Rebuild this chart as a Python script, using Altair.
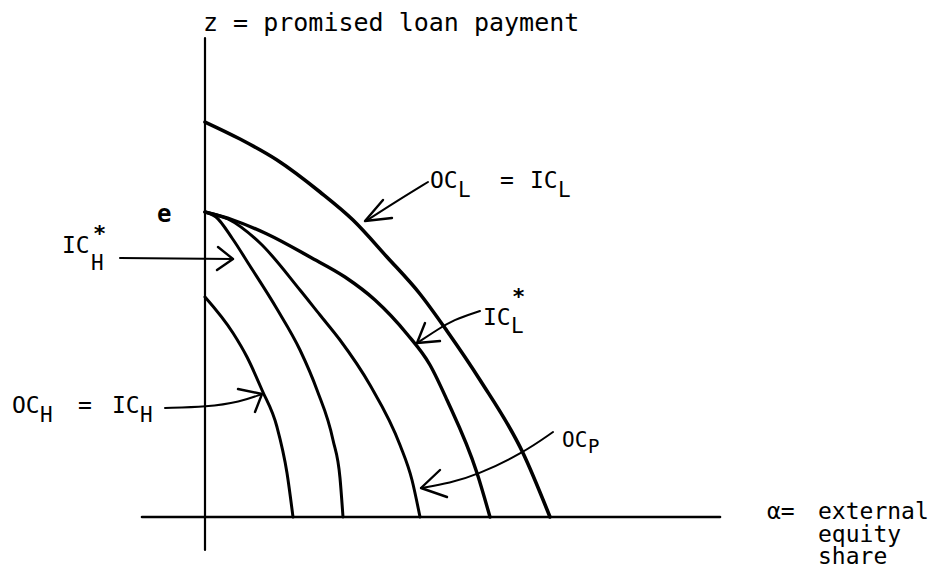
import altair as alt
import pandas as pd

# ---- curves (alpha, z) ----
OCL_X = [0.00, 0.35, 0.72, 1.15, 1.48, 1.82, 2.15, 2.42, 2.75, 3.18, 3.45]
OCL_Z = [3.95, 3.78, 3.57, 3.25, 2.97, 2.60, 2.23, 1.86, 1.37, 0.64, 0.00]

ICLS_X = [0.00, 0.28, 0.62, 1.05, 1.40, 1.70, 2.02, 2.25, 2.42, 2.72, 2.85]
ICLS_Z = [3.05, 2.97, 2.83, 2.60, 2.40, 2.17, 1.83, 1.52, 1.17, 0.44, 0.00]

OCP_X = [0.00, 0.23, 0.55, 0.95, 1.15, 1.35, 1.65, 1.95, 2.07, 2.15]
OCP_Z = [3.05, 2.98, 2.74, 2.27, 2.02, 1.77, 1.32, 0.72, 0.37, 0.00]

ICHS_X = [0.00, 0.11, 0.27, 0.45, 0.72, 0.95, 1.12, 1.28, 1.35, 1.38]
ICHS_Z = [3.05, 3.00, 2.79, 2.51, 2.08, 1.67, 1.27, 0.77, 0.39, 0.00]

OCH_X = [0.00, 0.28, 0.42, 0.57, 0.72, 0.82, 0.88]
OCH_Z = [2.20, 1.84, 1.60, 1.27, 0.90, 0.44, 0.00]

CURVE_NAMES = ["OC_L = IC_L", "IC_L*", "OC_P", "IC_H*", "OC_H = IC_H"]
CURVE_W = [3.6, 3.4, 3.0, 3.0, 3.0]

# ---- axes ----
ZAXIS_X = [0.0, 0.0]
ZAXIS_Z = [4.79, -0.33]
AAXIS_X = [-0.63, 5.15]
AAXIS_Z = [0.0, 0.0]

# ---- arrow shafts ----
A1_X = [2.23, 1.92, 1.61]
A1_Z = [3.35, 3.16, 2.96]
A2_X = [-0.85, 0.28]
A2_Z = [2.59, 2.58]
A3_X = [2.75, 2.48, 2.32, 2.12]
A3_Z = [2.06, 1.97, 1.87, 1.74]
A4_X = [-0.40, 0.02, 0.35, 0.57]
A4_Z = [1.09, 1.10, 1.15, 1.23]
A5_X = [3.48, 3.18, 2.72, 2.45, 2.16]
A5_Z = [0.85, 0.64, 0.42, 0.34, 0.29]

# ---- arrow heads (wing, tip, wing) ----
H1_X = [1.78, 1.60, 1.87]
H1_Z = [3.17, 2.96, 2.99]
H2_X = [0.13, 0.28, 0.12]
H2_Z = [2.70, 2.58, 2.47]
H3_X = [2.20, 2.12, 2.35]
H3_Z = [1.94, 1.74, 1.76]
H4_X = [0.33, 0.57, 0.50]
H4_Z = [1.28, 1.23, 1.05]
H5_X = [2.35, 2.16, 2.42]
H5_Z = [0.47, 0.29, 0.20]

# ---- text pieces (regular weight) ----
TXT = ["z = promised loan payment",
       "IC", "H",
       "OC", "H", "=", "IC", "H",
       "OC", "L", "=", "IC", "L",
       "IC", "L",
       "OC", "P",
       "\u03b1="]
TXT_X = [-0.02,
         -1.43, -1.14,
         -1.93, -1.65, -1.27, -0.93, -0.65,
         2.25, 2.53, 2.95, 3.25, 3.53,
         2.78, 3.06,
         3.57, 3.83,
         5.62]
TXT_Z = [4.865,
         2.64, 2.47,
         1.04, 0.95, 1.04, 1.04, 0.95,
         3.29, 3.20, 3.29, 3.29, 3.20,
         1.92, 1.84,
         0.70, 0.64,
         -0.02]
TXT_SIZE = [25,
            23, 21,
            23, 21, 23, 23, 21,
            23, 21, 23, 23, 21,
            23, 21,
            21, 19,
            23]

# ---- x-axis label block ----
ALPHA_LABEL = "external\nequity\nshare"
ALPHA_LABEL_X = 6.13
ALPHA_LABEL_Z = -0.02

# ---- text pieces (bold) ----
BTXT = ["e", "*", "*"]
BTXT_X = [-0.48, -1.12, 3.07]
BTXT_Z = [2.95, 2.76, 2.13]
BTXT_SIZE = [24, 22, 22]


def frame(name, xs, zs, w=2.0):
    return pd.DataFrame({"name": name, "x": xs, "z": zs, "i": list(range(len(xs))), "w": w})


curves = pd.concat([
    frame(n, xs, zs, w) for n, xs, zs, w in zip(
        CURVE_NAMES,
        [OCL_X, ICLS_X, OCP_X, ICHS_X, OCH_X],
        [OCL_Z, ICLS_Z, OCP_Z, ICHS_Z, OCH_Z],
        CURVE_W)
])
axes_df = pd.concat([frame("zaxis", ZAXIS_X, ZAXIS_Z, 2.2), frame("aaxis", AAXIS_X, AAXIS_Z, 2.6)])
shafts = pd.concat([frame(f"a{k}", xs, zs, 2.0) for k, (xs, zs) in enumerate(
    [(A1_X, A1_Z), (A2_X, A2_Z), (A3_X, A3_Z), (A4_X, A4_Z), (A5_X, A5_Z)])])
heads = pd.concat([frame(f"h{k}", xs, zs, 2.4) for k, (xs, zs) in enumerate(
    [(H1_X, H1_Z), (H2_X, H2_Z), (H3_X, H3_Z), (H4_X, H4_Z), (H5_X, H5_Z)])])
texts = pd.DataFrame({"t": TXT, "x": TXT_X, "z": TXT_Z, "fs": TXT_SIZE})
btexts = pd.DataFrame({"t": BTXT, "x": BTXT_X, "z": BTXT_Z, "fs": BTXT_SIZE})
block = pd.DataFrame({"t": [ALPHA_LABEL], "x": [ALPHA_LABEL_X], "z": [ALPHA_LABEL_Z]})

X = alt.X("x:Q", scale=alt.Scale(domain=[-1.97, 7.39], nice=False, zero=False), axis=None)
Y = alt.Y("z:Q", scale=alt.Scale(domain=[-0.59, 5.09], nice=False, zero=False), axis=None)
W = alt.StrokeWidth("w:Q", scale=None)


def lines(df, interp):
    return alt.Chart(df).mark_line(color="black", interpolate=interp, strokeCap="round",
                                   strokeJoin="round").encode(
        x=X, y=Y, detail="name:N", order="i:Q", strokeWidth=W)


def text_layer(df, weight):
    return alt.Chart(df).mark_text(
        align="left", baseline="alphabetic", font="DejaVu Sans Mono", color="black",
        fontWeight=weight
    ).encode(x=X, y=Y, text="t:N", size=alt.Size("fs:Q", scale=None))


block_layer = alt.Chart(block).mark_text(
    align="left", baseline="alphabetic", font="DejaVu Sans Mono", color="black",
    fontSize=23, lineBreak="\n", lineHeight=22.5
).encode(x=X, y=Y, text="t:N")

chart = alt.layer(
    lines(axes_df, "linear"),
    lines(curves, "monotone"),
    lines(shafts, "basis"),
    lines(heads, "linear"),
    text_layer(texts, "normal"),
    text_layer(btexts, "bold"),
    block_layer,
).properties(
    width=936, height=568,
    autosize=alt.AutoSizeParams(type="none"),
    padding=0,
    background="white",
).configure_view(stroke=None)

chart.save("out.html", embed_options={"renderer": "svg", "actions": False})
